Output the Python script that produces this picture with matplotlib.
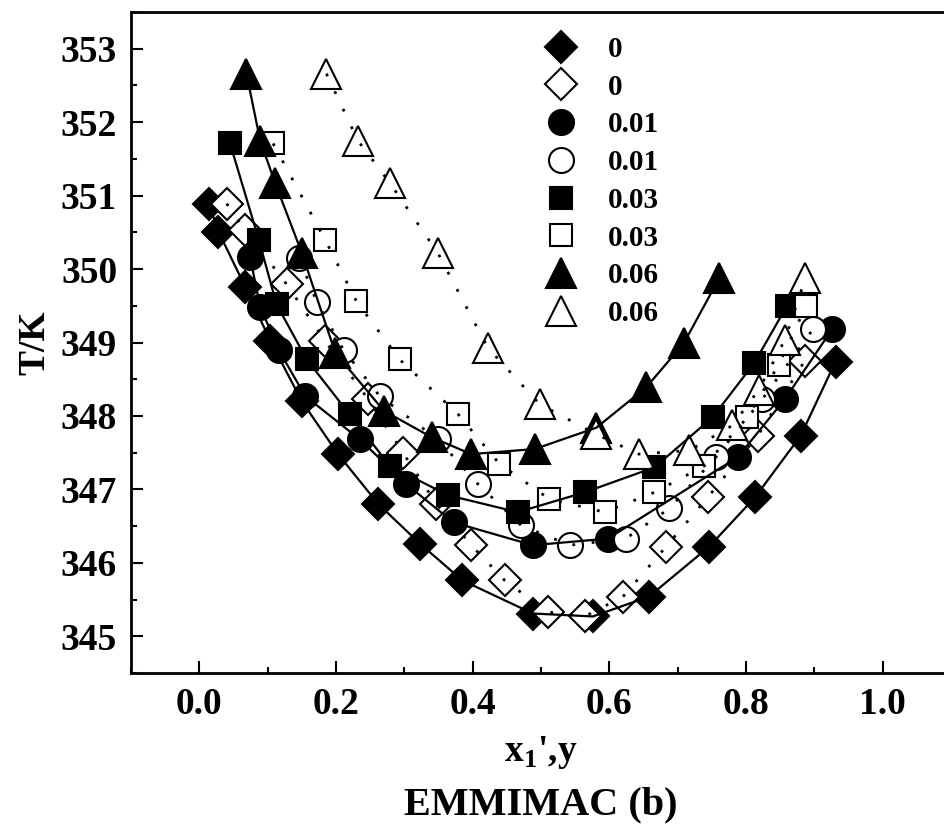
import numpy as np
import matplotlib
matplotlib.use("Agg")
import matplotlib.pyplot as plt
from matplotlib.ticker import MultipleLocator

plt.rcParams['font.family'] = ['Liberation Serif', 'DejaVu Serif']
plt.rcParams['font.weight'] = 'bold'
plt.rcParams['mathtext.fontset'] = 'custom'
plt.rcParams['mathtext.rm'] = 'Liberation Serif:bold'
plt.rcParams['mathtext.bf'] = 'Liberation Serif:bold'

# salt mole fraction 0 : liquid (filled) and vapour (open)
x_0 = [0.014, 0.028, 0.067, 0.104, 0.150, 0.203, 0.262, 0.323, 0.385, 0.488,
       0.576, 0.658, 0.746, 0.813, 0.880, 0.931]
T_0 = [350.89, 350.51, 349.76, 349.02, 348.20, 347.48, 346.80, 346.26, 345.76,
       345.31, 345.27, 345.54, 346.22, 346.89, 347.73, 348.74]
y_0 = [0.040, 0.067, 0.128, 0.184, 0.247, 0.298, 0.347, 0.398, 0.447, 0.510,
       0.564, 0.620, 0.683, 0.744, 0.817, 0.886]
Ty_0 = [350.89, 350.53, 349.79, 349.02, 348.23, 347.50, 346.80, 346.24, 345.76,
        345.33, 345.27, 345.54, 346.22, 346.89, 347.73, 348.75]

# 0.01
x_1 = [0.074, 0.089, 0.116, 0.155, 0.235, 0.303, 0.372, 0.488, 0.598, 0.788,
       0.857, 0.926]
T_1 = [350.17, 349.49, 348.90, 348.27, 347.68, 347.07, 346.55, 346.24, 346.33,
       347.44, 348.23, 349.18]
y_1 = [0.146, 0.172, 0.211, 0.264, 0.349, 0.408, 0.471, 0.542, 0.624, 0.688,
       0.756, 0.824, 0.898]
Ty_1 = [350.15, 349.55, 348.90, 348.27, 347.68, 347.07, 346.51, 346.24, 346.33,
        346.74, 347.44, 348.23, 349.18]

# 0.03
x_3 = [0.045, 0.087, 0.113, 0.157, 0.220, 0.279, 0.364, 0.466, 0.564, 0.666,
       0.751, 0.812, 0.860]
T_3 = [351.71, 350.40, 349.52, 348.77, 348.02, 347.32, 346.92, 346.69, 346.96,
       347.30, 347.98, 348.72, 349.50]
y_3 = [0.108, 0.184, 0.230, 0.293, 0.379, 0.439, 0.512, 0.593, 0.666, 0.739,
       0.802, 0.848, 0.888]
Ty_3 = [351.71, 350.40, 349.56, 348.77, 348.02, 347.35, 346.87, 346.69, 346.96,
        347.32, 347.98, 348.70, 349.50]

# 0.06
x_6 = [0.069, 0.089, 0.111, 0.150, 0.199, 0.270, 0.340, 0.398, 0.491, 0.581,
       0.654, 0.709, 0.761]
T_6 = [352.66, 351.75, 351.17, 350.22, 348.86, 348.07, 347.71, 347.48, 347.55,
       347.84, 348.39, 348.99, 349.88]
y_6 = [0.186, 0.232, 0.279, 0.349, 0.422, 0.498, 0.581, 0.643, 0.717, 0.780,
       0.819, 0.857, 0.887]
Ty_6 = [352.66, 351.75, 351.17, 350.22, 348.93, 348.16, 347.75, 347.48, 347.53,
        347.87, 348.36, 349.04, 349.88]

labels = ['0', '0', '0.01', '0.01', '0.03', '0.03', '0.06', '0.06']

series = [(x_0, T_0, 'D', 16.5, True), (y_0, Ty_0, 'D', 16.5, False),
          (x_1, T_1, 'o', 18, True), (y_1, Ty_1, 'o', 18, False),
          (x_3, T_3, 's', 16, True), (y_3, Ty_3, 's', 16, False),
          (x_6, T_6, '^', 21, True), (y_6, Ty_6, '^', 21, False)]

fig = plt.figure(figsize=(9.45, 8.31), dpi=100)
ax = fig.add_axes([131/945, 158/831, 820/945, 661/831])

handles = []
for (xs, ts, mk, ms, filled), lab in zip(series, labels):
    h, = ax.plot(xs, ts, linestyle='none', marker=mk, markersize=ms,
                 markerfacecolor='black' if filled else 'white',
                 markeredgecolor='black', markeredgewidth=1.5, zorder=3,
                 label=lab)
    handles.append(h)
    if filled:
        ax.plot(xs, ts, color='black', linewidth=1.6, zorder=4)
    else:
        ax.plot(xs, ts, color='black', linewidth=2.0,
                linestyle=(0, (1, 6)), zorder=4)

ax.set_xlim(-0.1, 1.1)
ax.set_ylim(344.5, 353.5)
ax.xaxis.set_major_locator(MultipleLocator(0.2))
ax.xaxis.set_minor_locator(MultipleLocator(0.1))
ax.yaxis.set_major_locator(MultipleLocator(1))
ax.yaxis.set_minor_locator(MultipleLocator(0.5))
ax.xaxis.set_major_formatter(plt.FormatStrFormatter('%.1f'))
ax.yaxis.set_major_formatter(plt.FormatStrFormatter('%d'))
ax.tick_params(which='both', direction='in', top=False, right=False,
               labelsize=27, width=1.5)
ax.tick_params(which='major', length=8.5, pad=10)
ax.tick_params(which='minor', length=4.5)
for sp in ax.spines.values():
    sp.set_linewidth(2)

ax.set_ylabel('T/K', fontsize=27, fontweight='bold', labelpad=6)
ax.set_xlabel("x$_{1}$',y", fontsize=27, fontweight='bold', labelpad=9)
fig.text(541/945, 1 - 805/831, 'EMMIMAC (b)', fontsize=29, fontweight='bold',
         ha='center', va='center')

leg = ax.legend(handles=handles, loc='upper left', bbox_to_anchor=(0.478, 0.995),
                frameon=False, fontsize=21, labelspacing=0.37,
                handlelength=1.2, handletextpad=1.0, borderpad=0.2)

fig.savefig('out.png', dpi=100)
